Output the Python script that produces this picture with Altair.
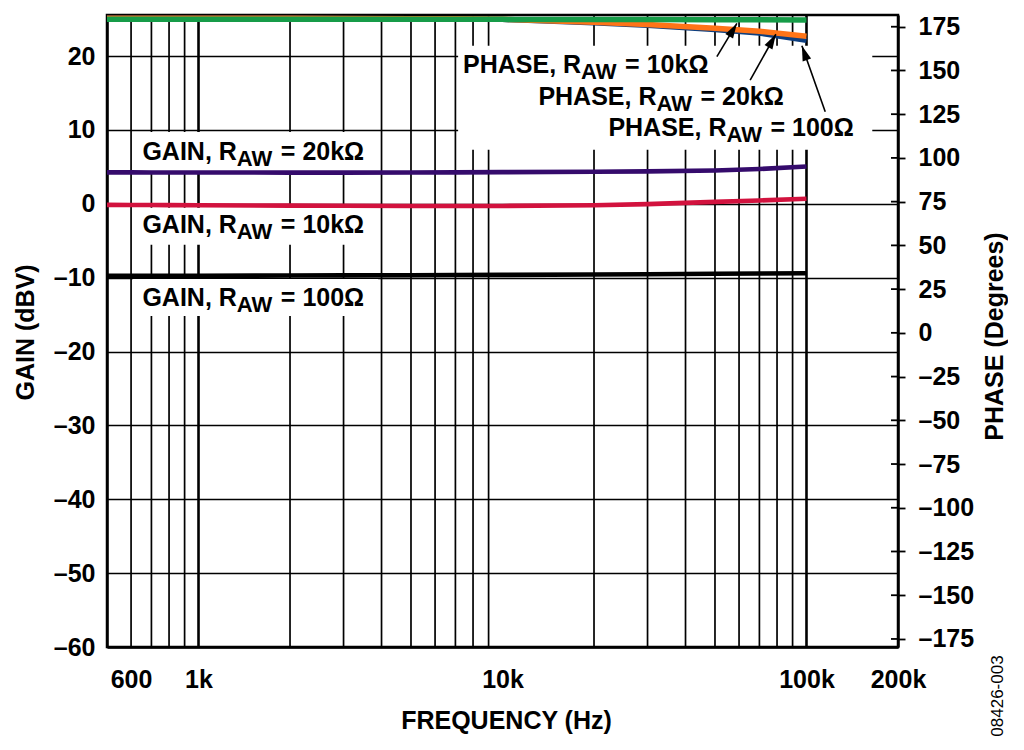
import altair as alt
import pandas as pd

# ---------------- data ----------------
freq = [500, 600, 700, 800, 1000, 2000, 3000, 5000, 7000, 10000, 20000, 30000, 50000, 70000, 100000]

gain_20k = [4.25, 4.25, 4.24, 4.24, 4.23, 4.22, 4.22, 4.23, 4.25, 4.28, 4.33, 4.38, 4.50, 4.70, 5.05]
gain_10k = [-0.15, -0.16, -0.17, -0.18, -0.20, -0.25, -0.27, -0.30, -0.30, -0.30, -0.20, -0.05, 0.25, 0.45, 0.68]
gain_100 = [-9.75, -9.75, -9.75, -9.75, -9.74, -9.72, -9.70, -9.67, -9.65, -9.63, -9.58, -9.54, -9.48, -9.44, -9.40]

phase_10k = [179.2, 179.2, 179.2, 179.2, 179.2, 179.2, 179.2, 179.2, 179.2, 179.2, 179.1, 179.1, 179.0, 179.0, 178.9]
phase_20k = [179.9, 179.9, 179.9, 179.9, 179.9, 179.8, 179.7, 179.6, 179.5, 179.3, 177.6, 176.2, 174.1, 172.4, 169.6]
phase_100 = [179.9, 179.9, 179.9, 179.9, 179.9, 179.8, 179.7, 179.5, 179.4, 179.2, 177.3, 175.8, 173.4, 171.4, 167.2]

grid_freqs = [600, 700, 800, 900, 1000, 2000, 3000, 4000, 5000, 6000, 7000, 8000, 9000,
              20000, 30000, 40000, 50000, 60000, 70000, 80000, 90000, 100000]
x_ticks = [600, 1000, 10000, 100000, 200000]
gain_ticks = [-60, -50, -40, -30, -20, -10, 0, 10, 20]
phase_ticks = [-175, -150, -125, -100, -75, -50, -25, 0, 25, 50, 75, 100, 125, 150, 175]

# annotations (anchor = join point between "R" and the "AW" subscript)
gain_lab_freq = [1337, 1337, 1337]
gain_lab_y = [5.86, -3.96, -13.90]
gain_lab_pre = ["GAIN, R", "GAIN, R", "GAIN, R"]
gain_lab_post = ["= 20kΩ", "= 10kΩ", "= 100Ω"]

phase_lab_freq = [18140, 32100, 54550]
phase_lab_y = [17.69, 13.40, 9.11]
phase_lab_pre = ["PHASE, R", "PHASE, R", "PHASE, R"]
phase_lab_post = ["= 10kΩ", "= 20kΩ", "= 100Ω"]

box_f1 = [609, 609, 609, 7145]
box_f2 = [3900, 3900, 3900, 164600]
box_g1 = [4.3, -5.55, -15.2, 7.3]
box_g2 = [9.7, -0.55, -10.2, 21.4]

arrow_tail_f = [50720, 65270, 115250]
arrow_tail_p = [157.9, 144.5, 126.4]
arrow_tip_f = [59030, 79300, 96580]
arrow_tip_p = [176.9, 170.7, 164.1]
arrow_angle = [30.9, 29.4, 340.6]

fig_id = ["08426-003"]

# ---------------- chart ----------------
FONT = "Liberation Sans"
FS = 25
W, H = 791, 632
xscale = alt.Scale(type="log", domain=[500, 200000])
gscale = alt.Scale(domain=[-60, 25.55], nice=False, zero=False)
pscale = alt.Scale(domain=[-179.6, 181.7], nice=False, zero=False)

x_axis = alt.Axis(
    values=x_ticks, title="FREQUENCY (Hz)", grid=False, ticks=False,
    domain=True, domainColor="black", domainWidth=2.5,
    labelExpr="datum.value >= 1000 ? (datum.value / 1000) + 'k' : '' + datum.value",
    labelFontSize=FS, labelFontWeight="bold", labelColor="black", labelFont=FONT,
    labelBaseline="alphabetic", labelPadding=40, labelFlush=False, labelOverlap=False,
    titleFontSize=FS, titleFontWeight="bold", titleColor="black", titleFont=FONT,
    titleX=399, titleY=81, titleBaseline="alphabetic", titleAlign="center",
)

gain_axis = alt.Axis(
    orient="left", values=gain_ticks, title="GAIN (dBV)",
    grid=True, gridColor="black", gridWidth=1.7, gridOpacity=1,
    ticks=False, domain=True, domainColor="black", domainWidth=2.5,
    labelExpr="datum.value < 0 ? '–' + (-datum.value) : '' + datum.value",
    labelFontSize=FS, labelFontWeight="bold", labelColor="black", labelFont=FONT,
    labelPadding=12, labelFlush=False, labelOverlap=False,
    titleFontSize=FS, titleFontWeight="bold", titleColor="black", titleFont=FONT,
    titleAngle=270, titleX=-82, titleY=317, titleAlign="center", titleBaseline="middle",
)

phase_axis = alt.Axis(
    orient="right", values=phase_ticks, title="PHASE (Degrees)",
    grid=False, ticks=True, tickSize=7, tickWidth=1.8, tickColor="black",
    domain=True, domainColor="black", domainWidth=2.5,
    labelExpr="datum.value < 0 ? '–' + (-datum.value) : '' + datum.value",
    labelFontSize=FS, labelFontWeight="bold", labelColor="black", labelFont=FONT,
    labelPadding=13, labelFlush=False, labelOverlap=False,
    titleFontSize=FS, titleFontWeight="bold", titleColor="black", titleFont=FONT,
    titleAngle=270, titleX=96, titleY=321, titleAlign="center", titleBaseline="middle",
)

# vertical grid lines (carry the shared x axis)
vgrid = alt.Chart(pd.DataFrame({"f": grid_freqs})).mark_rule(color="black").encode(
    x=alt.X("f:Q", scale=xscale, axis=x_axis),
    strokeWidth=alt.condition("datum.f == 1000 || datum.f == 100000", alt.value(2.6), alt.value(1.7)),
)

# white label backgrounds
boxes = alt.Chart(pd.DataFrame({"f1": box_f1, "f2": box_f2, "g1": box_g1, "g2": box_g2})).mark_rect(
    fill="white", strokeWidth=0
).encode(
    x=alt.X("f1:Q", scale=xscale), x2="f2:Q",
    y=alt.Y("g1:Q", scale=gscale, axis=None), y2="g2:Q",
)

def gain_line(vals, color, axis):
    df = pd.DataFrame({"f": freq, "g": vals})
    return alt.Chart(df).mark_line(color=color, strokeWidth=4.6).encode(
        x=alt.X("f:Q", scale=xscale),
        y=alt.Y("g:Q", scale=gscale, axis=axis),
    )

g_black = gain_line(gain_100, "#000000", gain_axis)
g_red = gain_line(gain_10k, "#D2123E", None)
g_purple = gain_line(gain_20k, "#350B6C", None)

lab_df = pd.DataFrame({
    "f": gain_lab_freq + phase_lab_freq,
    "y": gain_lab_y + phase_lab_y,
    "pre": gain_lab_pre + phase_lab_pre,
    "post": gain_lab_post + phase_lab_post,
})
lab_base = alt.Chart(lab_df).encode(
    x=alt.X("f:Q", scale=xscale),
    y=alt.Y("y:Q", scale=gscale, axis=None),
)
t_pre = lab_base.mark_text(align="right", baseline="alphabetic", font=FONT, fontSize=FS,
                           fontWeight="bold", color="black").encode(text="pre:N")
t_sub = lab_base.mark_text(align="left", baseline="alphabetic", font=FONT, fontSize=22,
                           fontWeight="bold", color="black", dy=6).encode(text=alt.value("AW"))
t_post = lab_base.mark_text(align="left", baseline="alphabetic", font=FONT, fontSize=FS,
                            fontWeight="bold", color="black", dx=44).encode(text="post:N")

fig_text = alt.Chart(pd.DataFrame({"t": fig_id})).mark_text(
    angle=270, font=FONT, fontSize=17, color="black", align="center", baseline="middle"
).encode(x=alt.value(891), y=alt.value(681), text="t:N")

def phase_line(vals, color, axis):
    df = pd.DataFrame({"f": freq, "p": vals})
    return alt.Chart(df).mark_line(color=color, strokeWidth=5.5).encode(
        x=alt.X("f:Q", scale=xscale),
        y=alt.Y("p:Q", scale=pscale, axis=axis),
    )

p_blue = phase_line(phase_100, "#0E3F7F", phase_axis)
p_orange = phase_line(phase_20k, "#FF7417", None)
p_green = phase_line(phase_10k, "#169C48", None)

inner_ticks = alt.Chart(pd.DataFrame({"t": phase_ticks})).mark_rule(color="black", strokeWidth=1.8).encode(
    y=alt.Y("t:Q", scale=pscale, axis=None), x=alt.value(W - 7), x2=alt.value(W),
)

arr_df = pd.DataFrame({"ft": arrow_tail_f, "pt": arrow_tail_p, "fh": arrow_tip_f,
                       "ph": arrow_tip_p, "a": arrow_angle})
arrow_lines = alt.Chart(arr_df).mark_rule(color="black", strokeWidth=1.6).encode(
    x=alt.X("ft:Q", scale=xscale), x2="fh:Q",
    y=alt.Y("pt:Q", scale=pscale, axis=None), y2="ph:Q",
)
arrow_heads = alt.Chart(arr_df).mark_point(
    shape="M0,0L-0.45,1.5L0.45,1.5Z", filled=True, color="black", opacity=1, size=400, strokeWidth=0
).encode(
    x=alt.X("fh:Q", scale=xscale),
    y=alt.Y("ph:Q", scale=pscale, axis=None),
    angle=alt.Angle("a:Q", scale=None),
)

chart = alt.layer(
    vgrid, boxes, g_black, g_red, g_purple, t_pre, t_sub, t_post, fig_text,
    p_blue, p_orange, p_green, inner_ticks, arrow_lines, arrow_heads,
).resolve_scale(y="independent").properties(
    width=W, height=H,
    autosize=alt.AutoSizeParams(type="none"),
    padding={"left": 99, "top": 7, "right": 110, "bottom": 95},
).configure_view(stroke="black", strokeWidth=2.5)

chart.save("out.html", embed_options={"renderer": "svg", "actions": False})
